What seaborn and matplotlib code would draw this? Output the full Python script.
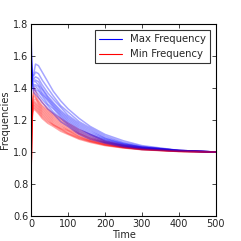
import matplotlib
matplotlib.use("Agg")
import matplotlib.pyplot as plt
from matplotlib.lines import Line2D
import pandas as pd
import seaborn as sns

# time samples
times = [0, 1, 3, 5, 8, 12, 20, 30, 45, 60, 80, 100, 130, 160, 200, 250, 300, 400, 500]

# max-frequency runs (blue), roughly from top to bottom of the band
max_runs = [
    [1.80, 1.60, 1.50, 1.48, 1.50, 1.55, 1.54, 1.50, 1.44, 1.38, 1.32, 1.27, 1.21, 1.16, 1.11, 1.07, 1.04, 1.01, 1.00],
    [1.78, 1.58, 1.49, 1.47, 1.48, 1.50, 1.49, 1.45, 1.40, 1.35, 1.29, 1.25, 1.19, 1.15, 1.10, 1.06, 1.035, 1.01, 1.00],
    [1.75, 1.56, 1.48, 1.46, 1.46, 1.47, 1.46, 1.42, 1.37, 1.33, 1.28, 1.23, 1.18, 1.14, 1.09, 1.055, 1.03, 1.01, 1.00],
    [1.72, 1.55, 1.47, 1.45, 1.45, 1.45, 1.44, 1.40, 1.35, 1.31, 1.26, 1.22, 1.17, 1.13, 1.085, 1.05, 1.03, 1.01, 1.00],
    [1.70, 1.54, 1.46, 1.44, 1.44, 1.44, 1.42, 1.39, 1.34, 1.30, 1.25, 1.21, 1.16, 1.12, 1.08, 1.05, 1.03, 1.01, 1.00],
    [1.67, 1.53, 1.45, 1.43, 1.42, 1.42, 1.41, 1.37, 1.33, 1.29, 1.24, 1.20, 1.15, 1.11, 1.075, 1.045, 1.025, 1.008, 1.00],
    [1.65, 1.52, 1.44, 1.42, 1.41, 1.41, 1.39, 1.36, 1.32, 1.28, 1.23, 1.19, 1.14, 1.11, 1.07, 1.04, 1.025, 1.008, 1.00],
    [1.62, 1.50, 1.43, 1.41, 1.40, 1.39, 1.38, 1.35, 1.30, 1.27, 1.22, 1.18, 1.13, 1.10, 1.065, 1.04, 1.02, 1.005, 1.00],
    [1.60, 1.49, 1.42, 1.40, 1.39, 1.38, 1.36, 1.33, 1.29, 1.25, 1.21, 1.17, 1.12, 1.09, 1.06, 1.035, 1.02, 1.005, 1.00],
    [1.55, 1.47, 1.41, 1.39, 1.37, 1.36, 1.34, 1.31, 1.27, 1.24, 1.19, 1.16, 1.11, 1.08, 1.055, 1.03, 1.015, 1.005, 1.00],
]

# min-frequency runs (red)
min_runs = [
    [0.75, 1.15, 1.32, 1.36, 1.40, 1.38, 1.34, 1.31, 1.27, 1.24, 1.21, 1.18, 1.14, 1.11, 1.07, 1.045, 1.03, 1.01, 1.00],
    [0.77, 1.12, 1.30, 1.34, 1.37, 1.35, 1.32, 1.29, 1.26, 1.23, 1.20, 1.17, 1.13, 1.10, 1.065, 1.04, 1.025, 1.008, 1.00],
    [0.79, 1.10, 1.28, 1.33, 1.35, 1.34, 1.31, 1.28, 1.25, 1.22, 1.19, 1.16, 1.12, 1.09, 1.06, 1.04, 1.023, 1.008, 1.00],
    [0.80, 1.08, 1.27, 1.32, 1.33, 1.33, 1.30, 1.27, 1.24, 1.21, 1.18, 1.15, 1.115, 1.085, 1.058, 1.035, 1.02, 1.006, 1.00],
    [0.82, 1.07, 1.26, 1.31, 1.32, 1.31, 1.29, 1.26, 1.23, 1.20, 1.17, 1.14, 1.11, 1.08, 1.055, 1.033, 1.02, 1.005, 1.00],
    [0.84, 1.06, 1.25, 1.30, 1.31, 1.30, 1.28, 1.25, 1.22, 1.19, 1.16, 1.135, 1.10, 1.075, 1.05, 1.03, 1.018, 1.005, 1.00],
    [0.85, 1.05, 1.24, 1.29, 1.30, 1.29, 1.27, 1.24, 1.21, 1.18, 1.15, 1.13, 1.095, 1.07, 1.048, 1.03, 1.017, 1.004, 1.00],
    [0.87, 1.04, 1.23, 1.28, 1.29, 1.28, 1.26, 1.23, 1.20, 1.17, 1.145, 1.12, 1.09, 1.068, 1.045, 1.028, 1.016, 1.004, 1.00],
    [0.88, 1.03, 1.22, 1.27, 1.28, 1.27, 1.25, 1.22, 1.19, 1.17, 1.14, 1.115, 1.085, 1.065, 1.043, 1.026, 1.015, 1.003, 1.00],
    [0.90, 1.02, 1.20, 1.25, 1.27, 1.26, 1.24, 1.21, 1.18, 1.16, 1.13, 1.11, 1.08, 1.06, 1.04, 1.025, 1.014, 1.003, 1.00],
]

labels = ["Max Frequency", "Min Frequency"]
colors = ["blue", "red"]

sns.set_style("ticks")
plt.rcParams["font.family"] = ["DejaVu Sans"]
plt.rcParams["font.size"] = 7

fig = plt.figure(figsize=(2.41, 2.41), dpi=100)
ax = fig.add_axes([0.129, 0.104, 0.767, 0.796])

# interleave the runs so neither colour sits fully on top
for bmax, bmin in zip(max_runs, min_runs):
    for run, c in ((bmax, colors[0]), (bmin, colors[1])):
        d = pd.DataFrame({"Time": times, "Frequencies": run})
        sns.lineplot(data=d, x="Time", y="Frequencies", color=c, alpha=0.35,
                     lw=1.1, ax=ax)

ax.set_xlim(0, 500)
ax.set_ylim(0.6, 1.8)
ax.set_xticks([0, 100, 200, 300, 400, 500])
ax.set_yticks([0.6, 0.8, 1.0, 1.2, 1.4, 1.6, 1.8])
ax.tick_params(direction="in", top=True, right=True, labelsize=7, length=3, width=0.6, pad=2)
for s in ax.spines.values():
    s.set_visible(True)
    s.set_linewidth(0.8)
    s.set_color("black")
ax.set_xlabel("Time", fontsize=7, labelpad=1)
ax.set_ylabel("Frequencies", fontsize=7, labelpad=2)

handles = [Line2D([], [], color=c, lw=0.8) for c in colors]
leg = ax.legend(handles, labels, loc="upper right", fontsize=7.3, frameon=True,
                fancybox=False, borderaxespad=0.6, handlelength=2.2)
leg.get_frame().set_edgecolor("black")
leg.get_frame().set_linewidth(0.8)

fig.savefig("out.png", dpi=100)
